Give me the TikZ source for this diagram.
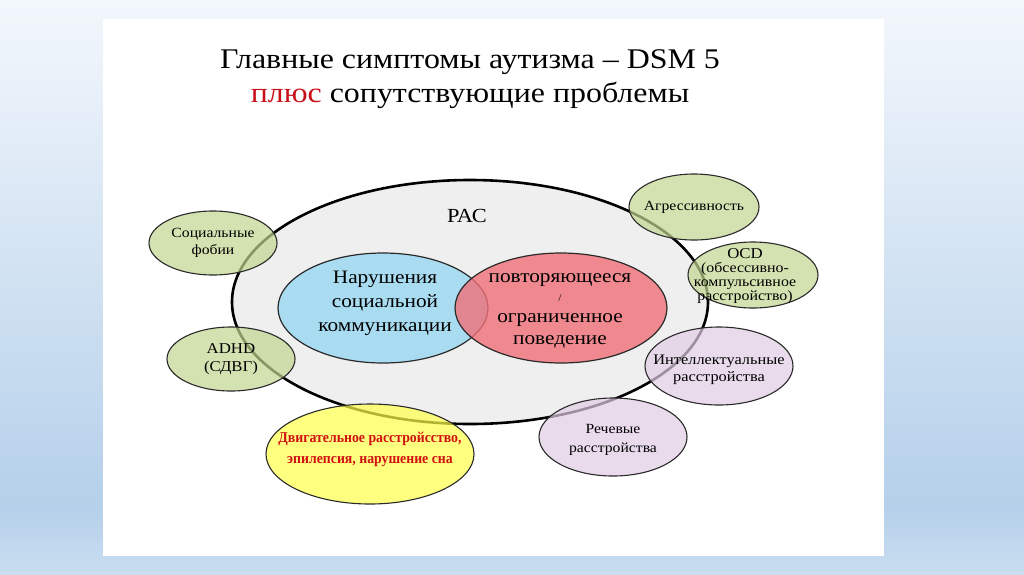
\documentclass[tikz,border=0pt]{standalone}
\usepackage{fontspec}
\setmainfont{Liberation Serif}[FakeStretch=1.12]
\newfontfamily\condserif{Liberation Serif}[FakeStretch=0.92]
\usetikzlibrary{shapes.geometric}
\definecolor{bgbot}{HTML}{C9DDF0}
\definecolor{bgblue}{HTML}{B5D0EA}
\definecolor{bgtop}{HTML}{F3F7FC}
\definecolor{racfill}{HTML}{EFEFEF}
\definecolor{bluefill}{HTML}{A9DCF1}
\definecolor{redfill}{HTML}{F07078}
\definecolor{greenfill}{HTML}{C2D691}
\definecolor{lilacfill}{HTML}{E1CDE4}
\definecolor{yellowfill}{HTML}{FFFF4A}
\definecolor{titlered}{HTML}{C8101A}
\definecolor{textred}{HTML}{D01010}
\definecolor{edge}{HTML}{2A2A2A}
\pgfdeclareverticalshading{bgshade}{100bp}{color(0bp)=(bgbot); color(25bp)=(bgbot); color(31bp)=(bgblue); color(75bp)=(bgtop); color(100bp)=(bgtop)}
\tikzset{
  bubble/.style={ellipse, draw=edge, line width=1.1pt, inner sep=0pt, fill opacity=0.7},
  green/.style={bubble, fill=greenfill, minimum width=128pt, minimum height=64pt},
  lilac/.style={bubble, fill=lilacfill, minimum width=148pt, minimum height=78pt},
  core/.style={ellipse, draw=edge, line width=1.2pt, inner sep=0pt, minimum width=210pt, minimum height=110pt},
  plain/.style={inner sep=0pt, align=center},
  small/.style={plain, font=\rmfamily\fontsize{14}{17}\selectfont},
  big/.style={plain, font=\rmfamily\fontsize{19}{24}\selectfont}
}
\begin{document}
\begin{tikzpicture}[x=1pt,y=-1pt]
\useasboundingbox (0,0) rectangle (1024,574);
\shade[shading=bgshade] (0,0) rectangle (1024,574);
\fill[white] (103,19) rectangle (884,556);
% title
\node[plain, font=\rmfamily\fontsize{28.5}{33}\selectfont] (title1) at (470,62) {Главные симптомы аутизма -- DSM 5};
\node[plain, font=\rmfamily\fontsize{28.5}{33}\selectfont] (title2) at (470,95) {\textcolor{titlered}{плюс} сопутствующие проблемы};
% main ellipse
\node[ellipse, draw=black, line width=2.6pt, fill=racfill, minimum width=476pt, minimum height=244pt, inner sep=0pt] (rac) at (470,302) {};
\node[plain, font=\rmfamily\fontsize{20}{24}\selectfont] (ractxt) at (467,216) {РАС};
% core ellipses
\node[core, fill=bluefill] (social) at (383,308) {};
\node[core, fill=redfill, fill opacity=0.8, minimum width=212pt] (repet) at (561,308) {};
\node[big] (socialtxt) at (385,303) {Нарушения\\социальной\\коммуникации};
\node[big, font=\rmfamily\fontsize{19}{21.5}\selectfont] (repettxt) at (560,311) {повторяющееся\\[-3pt]{\fontsize{10}{12}\selectfont /}\\ограниченное\\поведение};
% green bubbles
\node[green] (phob) at (213,243) {};
\node[green] (adhd) at (231,359) {};
\node[green, minimum width=130pt, minimum height=66pt] (aggr) at (694,207) {};
\node[green, minimum width=130pt, minimum height=66pt] (ocd) at (753,275) {};
% lilac bubbles
\node[lilac] (intel) at (719,366) {};
\node[lilac] (speech) at (613,437) {};
% yellow bubble
\node[bubble, fill=yellowfill, minimum width=208pt, minimum height=100pt] (motor) at (370,454) {};
% bubble texts
\node[small] (phobtxt) at (phob.center) {Социальные\\фобии};
\node[small, font=\rmfamily\fontsize{15}{18}\selectfont] (adhdtxt) at (adhd.center) {ADHD\\(СДВГ)};
\node[small] (aggrtxt) at (aggr.center) {Агрессивность};
\node[small, font=\rmfamily\fontsize{14.2}{14.3}\selectfont] (ocdtxt) at ([xshift=-8pt,yshift=-1pt]ocd.center) {{\fontsize{15}{14.3}\selectfont OCD}\\(обсессивно-\\компульсивное\\расстройство)};
\node[small, font=\rmfamily\fontsize{14.6}{17}\selectfont] (inteltxt) at ([yshift=-4pt]intel.center) {Интеллектуальные\\расстройства};
\node[small, font=\rmfamily\fontsize{14}{19}\selectfont] (speechtxt) at ([yshift=-3pt]speech.center) {Речевые\\расстройства};
\node[plain, text=textred, font=\condserif\bfseries\fontsize{15}{21}\selectfont] (motortxt) at ([yshift=5pt]motor.center) {Двигательное расстройсство,\\эпилепсия, нарушение сна};
\end{tikzpicture}
\end{document}
